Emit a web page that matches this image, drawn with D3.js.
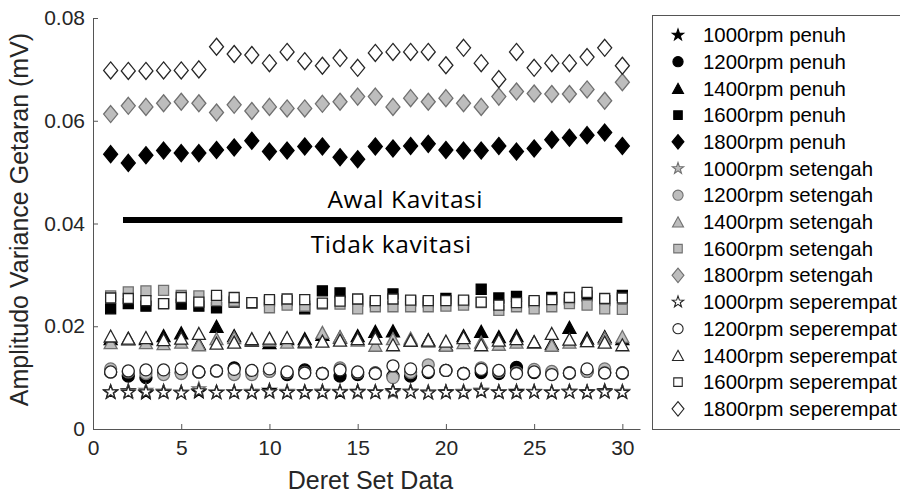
<!DOCTYPE html>
<html>
<head>
<meta charset="utf-8">
<script src="https://cdn.jsdelivr.net/npm/d3@7"></script>
<style>
  html, body { margin: 0; padding: 0; background: #fff; }
  svg { display: block; }
</style>
</head>
<body>
<svg id="chart" width="900" height="495"></svg>
<script>
// Data set index (x) and vibration variance amplitude (mV) per speed and load
const setIndex = d3.range(1, 31);

const pen1000 = [0.0071,0.0074,0.0070,0.0073,0.0071,0.0072,0.0071,0.0072,0.0071,0.0075,0.0071,0.0072,0.0073,0.0071,0.0073,0.0072,0.0074,0.0073,0.0071,0.0072,0.0072,0.0075,0.0072,0.0073,0.0072,0.0071,0.0073,0.0072,0.0074,0.0072];
const pen1200 = [0.0111,0.0103,0.0100,0.0110,0.0110,0.0111,0.0113,0.0119,0.0112,0.0113,0.0106,0.0115,0.0108,0.0103,0.0106,0.0109,0.0103,0.0103,0.0110,0.0114,0.0108,0.0110,0.0108,0.0120,0.0110,0.0108,0.0109,0.0112,0.0110,0.0109];
const pen1400 = [0.0176,0.0176,0.0176,0.0182,0.0187,0.0166,0.0200,0.0182,0.0173,0.0168,0.0176,0.0176,0.0184,0.0179,0.0182,0.0190,0.0191,0.0173,0.0174,0.0165,0.0182,0.0190,0.0180,0.0182,0.0169,0.0166,0.0198,0.0177,0.0180,0.0176];
const pen1600 = [0.0234,0.0244,0.0239,0.0244,0.0243,0.0239,0.0236,0.0247,0.0245,0.0249,0.0250,0.0234,0.0269,0.0265,0.0249,0.0247,0.0263,0.0249,0.0247,0.0254,0.0249,0.0272,0.0255,0.0258,0.0247,0.0256,0.0252,0.0259,0.0250,0.0260];
const pen1800 = [0.0535,0.0518,0.0533,0.0542,0.0537,0.0537,0.0543,0.0548,0.0561,0.0540,0.0542,0.0550,0.0550,0.0529,0.0525,0.0550,0.0546,0.0551,0.0555,0.0543,0.0542,0.0542,0.0551,0.0540,0.0546,0.0563,0.0567,0.0572,0.0577,0.0551];

const set1000 = [0.0072,0.0073,0.0075,0.0072,0.0071,0.0078,0.0071,0.0072,0.0073,0.0072,0.0073,0.0071,0.0072,0.0073,0.0071,0.0072,0.0071,0.0073,0.0072,0.0071,0.0073,0.0074,0.0072,0.0071,0.0073,0.0072,0.0073,0.0071,0.0072,0.0073];
const set1200 = [0.0117,0.0111,0.0108,0.0106,0.0108,0.0111,0.0113,0.0106,0.0106,0.0112,0.0110,0.0110,0.0108,0.0119,0.0110,0.0109,0.0100,0.0110,0.0125,0.0114,0.0108,0.0119,0.0112,0.0110,0.0116,0.0112,0.0109,0.0112,0.0117,0.0109];
const set1400 = [0.0168,0.0175,0.0168,0.0166,0.0169,0.0164,0.0176,0.0178,0.0175,0.0173,0.0169,0.0169,0.0188,0.0180,0.0173,0.0163,0.0176,0.0177,0.0171,0.0163,0.0168,0.0169,0.0165,0.0169,0.0169,0.0163,0.0169,0.0172,0.0177,0.0180];
const set1600 = [0.0259,0.0267,0.0269,0.0270,0.0260,0.0259,0.0250,0.0249,0.0245,0.0236,0.0241,0.0239,0.0243,0.0243,0.0234,0.0238,0.0238,0.0238,0.0238,0.0239,0.0241,0.0246,0.0231,0.0238,0.0234,0.0238,0.0244,0.0241,0.0234,0.0233];
const set1800 = [0.0613,0.0629,0.0627,0.0634,0.0637,0.0634,0.0616,0.0631,0.0619,0.0627,0.0624,0.0624,0.0633,0.0637,0.0647,0.0647,0.0627,0.0644,0.0637,0.0644,0.0634,0.0627,0.0647,0.0657,0.0653,0.0652,0.0652,0.0661,0.0639,0.0675];

const sep1000 = [0.0072,0.0071,0.0072,0.0071,0.0070,0.0074,0.0071,0.0071,0.0071,0.0072,0.0071,0.0071,0.0071,0.0072,0.0072,0.0071,0.0073,0.0072,0.0070,0.0071,0.0071,0.0073,0.0071,0.0071,0.0072,0.0071,0.0072,0.0071,0.0072,0.0071];
const sep1200 = [0.0111,0.0113,0.0115,0.0115,0.0117,0.0111,0.0113,0.0116,0.0114,0.0117,0.0111,0.0109,0.0108,0.0115,0.0111,0.0108,0.0123,0.0117,0.0112,0.0114,0.0108,0.0116,0.0114,0.0108,0.0111,0.0106,0.0109,0.0117,0.0109,0.0109];
const sep1400 = [0.0181,0.0177,0.0178,0.0174,0.0177,0.0186,0.0167,0.0169,0.0176,0.0177,0.0178,0.0171,0.0171,0.0173,0.0176,0.0177,0.0164,0.0173,0.0173,0.0171,0.0178,0.0164,0.0173,0.0176,0.0170,0.0186,0.0175,0.0172,0.0169,0.0164];
const sep1600 = [0.0255,0.0254,0.0250,0.0244,0.0256,0.0247,0.0260,0.0256,0.0246,0.0252,0.0253,0.0252,0.0245,0.0249,0.0253,0.0250,0.0253,0.0251,0.0250,0.0250,0.0251,0.0247,0.0241,0.0246,0.0250,0.0252,0.0256,0.0266,0.0254,0.0255];
const sep1800 = [0.0698,0.0697,0.0697,0.0698,0.0698,0.0700,0.0744,0.0730,0.0728,0.0712,0.0734,0.0716,0.0707,0.0722,0.0703,0.0732,0.0734,0.0734,0.0734,0.0708,0.0742,0.0712,0.0681,0.0734,0.0703,0.0712,0.0712,0.0724,0.0742,0.0707];

const xTicks = [0, 5, 10, 15, 20, 25, 30];
const yTicks = [0, 0.02, 0.04, 0.06, 0.08];

// Cavitation onset threshold line and its labels
const threshold = 0.0407;
const thresholdSpan = [1.7, 30];
const zoneLabels = ["Awal Kavitasi", "Tidak kavitasi"];

// Series in drawing / legend order
const loads = [
  { name: "penuh", fill: "#000000", stroke: "#000000" },
  { name: "setengah", fill: "#bdbdbd", stroke: "#707070" },
  { name: "seperempat", fill: "#ffffff", stroke: "#262626" }
];
const speeds = [
  { rpm: 1000, shape: "star" },
  { rpm: 1200, shape: "circle" },
  { rpm: 1400, shape: "triangle" },
  { rpm: 1600, shape: "square" },
  { rpm: 1800, shape: "diamond" }
];
const values = {
  penuh: [pen1000, pen1200, pen1400, pen1600, pen1800],
  setengah: [set1000, set1200, set1400, set1600, set1800],
  seperempat: [sep1000, sep1200, sep1400, sep1600, sep1800]
};
const series = [];
loads.forEach(ld => speeds.forEach((sp, i) => {
  series.push({
    label: sp.rpm + "rpm " + ld.name,
    shape: sp.shape,
    fill: ld.fill,
    stroke: ld.stroke,
    points: setIndex.map((s, j) => ({ x: s, y: values[ld.name][i][j] }))
  });
}));

// Marker outlines
function starPath(R) {
  const r = R * 0.4, pts = [];
  for (let k = 0; k < 10; k++) {
    const a = -Math.PI / 2 + k * Math.PI / 5;
    const rr = k % 2 === 0 ? R : r;
    pts.push([rr * Math.cos(a), rr * Math.sin(a)]);
  }
  return "M" + pts.map(p => p[0].toFixed(2) + "," + p[1].toFixed(2)).join("L") + "Z";
}
function markerPath(shape) {
  switch (shape) {
    case "star": return starPath(7);
    case "circle": return "M6,0A6,6 0 1,1 -6,0A6,6 0 1,1 6,0Z";
    case "triangle": return "M0,-6L6.5,6L-6.5,6Z";
    case "square": return "M-5,-5H5V5H-5Z";
    case "diamond": return "M0,-8.5L7,0L0,8.5L-7,0Z";
  }
}

const svg = d3.select("#chart");
const x = d3.scaleLinear().domain([0, 31]).range([93, 640]);
const y = d3.scaleLinear().domain([0, 0.08]).range([429, 18]);
const axisColor = "#262626";
const axisFont = "Liberation Sans, Arial, sans-serif";

// Axes (ticks pointing inward, no box)
const gx = svg.append("g").attr("transform", `translate(0,${y(0)})`)
  .call(d3.axisBottom(x).tickValues(xTicks).tickFormat(d3.format("d")).tickSizeInner(-5).tickSizeOuter(0).tickPadding(11));
const gy = svg.append("g").attr("transform", `translate(${x(0)},0)`)
  .call(d3.axisLeft(y).tickValues(yTicks).tickFormat(d => d === 0 ? "0" : d3.format(".2f")(d)).tickSizeInner(-5).tickSizeOuter(0).tickPadding(8));
[gx, gy].forEach(g => {
  g.select(".domain").attr("stroke", "#555").attr("stroke-width", 1);
  g.selectAll(".tick line").attr("stroke", "#555");
  g.selectAll(".tick text").attr("fill", axisColor).style("font-family", axisFont).style("font-size", "21px");
});

svg.append("text")
  .attr("x", (x(0) + x(31)) / 2 + 4).attr("y", 489)
  .attr("text-anchor", "middle").attr("fill", axisColor)
  .style("font-family", axisFont).style("font-size", "25px")
  .text("Deret Set Data");
svg.append("text")
  .attr("transform", `translate(28,${(y(0) + y(0.08)) / 2 - 4}) rotate(-90)`)
  .attr("text-anchor", "middle").attr("fill", axisColor)
  .style("font-family", axisFont).style("font-size", "25px")
  .text("Amplitudo Variance Getaran (mV)");

// Threshold band
svg.append("line")
  .attr("x1", x(thresholdSpan[0])).attr("x2", x(thresholdSpan[1]))
  .attr("y1", y(threshold)).attr("y2", y(threshold))
  .attr("stroke", "#000").attr("stroke-width", 6);
svg.append("text")
  .attr("x", x(17.7)).attr("y", y(threshold) - 12)
  .attr("text-anchor", "middle").attr("fill", "#000")
  .style("font-family", "Open Sans, sans-serif").style("font-size", "24.5px")
  .style("letter-spacing", "0.6px")
  .text(zoneLabels[0]);
svg.append("text")
  .attr("x", x(16.9)).attr("y", y(threshold) + 33)
  .attr("text-anchor", "middle").attr("fill", "#000")
  .style("font-family", "Open Sans, sans-serif").style("font-size", "24.5px")
  .style("letter-spacing", "0.6px")
  .text(zoneLabels[1]);

// Markers
const plot = svg.append("g");
series.forEach(s => {
  plot.append("g").selectAll("path").data(s.points).join("path")
    .attr("d", markerPath(s.shape))
    .attr("transform", d => `translate(${x(d.x)},${y(d.y)})`)
    .attr("fill", s.fill).attr("stroke", s.stroke).attr("stroke-width", 1.3);
});

// Legend
const lg = svg.append("g");
lg.append("rect").attr("x", 652.5).attr("y", 15.5).attr("width", 260).attr("height", 414)
  .attr("fill", "#fff").attr("stroke", "#555").attr("stroke-width", 1);
series.forEach((s, i) => {
  const cy = 35 + i * 26.7;
  lg.append("path").attr("d", markerPath(s.shape))
    .attr("transform", `translate(678,${cy}) scale(0.85)`)
    .attr("fill", s.fill).attr("stroke", s.stroke).attr("stroke-width", 1.3);
  lg.append("text").attr("x", 703).attr("y", cy).attr("dy", "0.35em")
    .attr("fill", "#000").style("font-family", axisFont).style("font-size", "20.4px")
    .text(s.label);
});
</script>
</body>
</html>
